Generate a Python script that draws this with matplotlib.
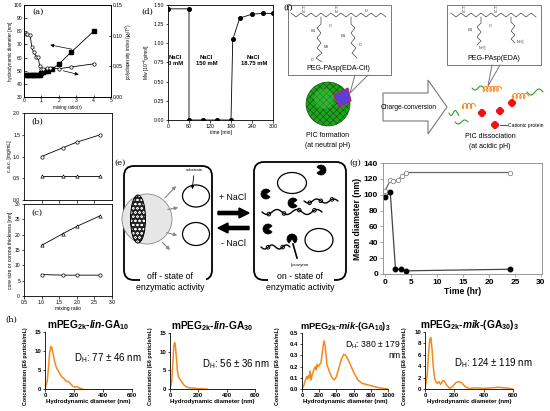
"""Multi-panel figure: PIC micelles, salt response and particle size distributions."""

import matplotlib

matplotlib.use("Agg")

import matplotlib.pyplot as plt
import numpy as np
from matplotlib.patches import Circle, Ellipse, FancyArrow, FancyBboxPatch, Polygon, Rectangle, Wedge

W, H = 550, 411

# (a) diameter / polydispersity vs mixing ratio
ratio_a_diam = [0.1, 0.2, 0.3, 0.4, 0.5, 0.6, 0.7, 0.8, 0.9, 1.0, 1.1, 1.25, 1.4, 1.6, 2.0, 2.7, 4.0]
diam_a = [47, 47, 47, 47, 47, 47, 47, 47, 47, 48, 49, 50, 50, 51, 55, 64, 80]
ratio_a_pdi = [0.1, 0.2, 0.35, 0.45, 0.55, 0.7, 0.8, 0.9, 1.0, 1.1, 1.3, 1.5, 2.0, 2.7, 4.0]
pdi_a = [0.103, 0.103, 0.101, 0.081, 0.073, 0.066, 0.066, 0.051, 0.045, 0.045, 0.047, 0.047, 0.046, 0.049, 0.054]

# (b), (c) vs mixing ratio
ratio_bc = [1.0, 1.6, 2.0, 2.67]
cac_circle = [1.0, 1.2, 1.33, 1.5]
cac_triangle = [0.55, 0.55, 0.55, 0.55]
core_triangle = [16.5, 20.3, 22.7, 26.2]
corona_circle = [7.0, 6.8, 6.8, 6.8]

# (d) Mw vs time under NaCl switching
time_d = [0, 60, 60, 100, 140, 180, 185, 205, 240, 270, 300]
mw_d = [1.45, 1.45, 0.0, 0.0, 0.0, 0.0, 1.05, 1.33, 1.38, 1.39, 1.39]
nacl_labels = ["NaCl\n0 mM", "NaCl\n150 mM", "NaCl\n18.75 mM"]
nacl_pos = [22, 110, 245]

# (g) mean diameter vs time
time_g_open = [0, 1, 1.5, 2.5, 3.3, 4, 24]
diam_g_open = [105, 118, 117, 119, 124, 128, 128]
time_g_filled = [0, 1, 2, 3, 4, 24]
diam_g_filled = [97, 103, 6, 6, 4, 6]

# (h) NTA size distributions
h1_d = [0, 15, 25, 32, 40, 48, 55, 65, 75, 85, 100, 115, 130, 145, 160, 175, 190, 205, 220, 240, 260]
h1_c = [0, 2, 6, 9.5, 11.2, 10.8, 9.5, 7.5, 6.0, 5.2, 4.2, 3.2, 2.8, 2.0, 2.0, 1.4, 0.8, 0.5, 0.6, 0.2, 0]
h2_d = [0, 12, 20, 27, 33, 38, 45, 52, 60, 70, 85, 100, 120, 140, 170, 200, 260]
h2_c = [0, 2, 7, 11.5, 12.4, 11.6, 8.5, 5.0, 3.2, 2.6, 1.8, 1.0, 0.5, 0.3, 0.2, 0.1, 0]
h3_d = [0, 20, 40, 55, 65, 75, 85, 95, 105, 115, 125, 140, 155, 165, 175, 190, 205, 220, 240, 255, 270,
        290, 320, 350, 375, 400, 430, 460, 485, 510, 550, 600, 650, 700, 800, 900, 1000]
h3_c = [0, 0.03, 0.08, 0.11, 0.09, 0.12, 0.1, 0.16, 0.08, 0.12, 0.14, 0.18, 0.2, 0.17, 0.22, 0.2, 0.22, 0.23, 0.35,
        0.43, 0.38, 0.22, 0.15, 0.1, 0.08, 0.11, 0.19, 0.27, 0.31, 0.3, 0.24, 0.15, 0.08, 0.05, 0.03, 0.01, 0]
h4_d = [0, 15, 25, 33, 40, 48, 56, 65, 75, 85, 95, 105, 115, 125, 135, 150, 170, 190, 210, 230, 250, 275,
        300, 350, 400, 450, 500, 550, 600]
h4_c = [0, 2.5, 6.5, 8.8, 9.0, 7.0, 4.0, 2.0, 1.2, 1.0, 1.3, 0.8, 1.2, 1.5, 1.3, 0.6, 0.1, 0.5, 1.1, 1.3, 1.1,
        0.4, 0.1, 0.2, 0.1, 0.2, 0.3, 0.2, 0]
h_titles = [
    r"mPEG$_{\mathbf{2k}}$-$\mathit{lin}$-GA$_{\mathbf{10}}$",
    r"mPEG$_{\mathbf{2k}}$-$\mathit{lin}$-GA$_{\mathbf{30}}$",
    r"mPEG$_{\mathbf{2k}}$-$\mathit{mik}$-(GA$_{\mathbf{10}}$)$_{\mathbf{3}}$",
    r"mPEG$_{\mathbf{2k}}$-$\mathit{mik}$-(GA$_{\mathbf{30}}$)$_{\mathbf{3}}$",
]
h_notes = [r"D$_\mathrm{H}$: 77 ± 46 nm", r"D$_\mathrm{H}$: 56 ± 36 nm",
           "D$_\\mathrm{H}$: 380 ± 179\nnm", r"D$_\mathrm{H}$: 124 ± 119 nm"]

ORANGE = "#f7861c"

plt.rcParams.update({
    "font.family": ["Liberation Sans", "DejaVu Sans"],
    "mathtext.fontset": "custom",
    "mathtext.rm": "Liberation Sans",
    "mathtext.it": "Liberation Sans:italic:bold",
    "mathtext.bf": "Liberation Sans:bold",
    "axes.linewidth": 0.6,
    "xtick.major.width": 0.5,
    "ytick.major.width": 0.5,
    "xtick.major.size": 2,
    "ytick.major.size": 2,
    "hatch.linewidth": 0.4,
})


def px_axes(fig, left, top, right, bottom):
    return fig.add_axes([left / W, 1 - bottom / H, (right - left) / W, (bottom - top) / H])


def small_ticks(ax, size=3.6, direction="in"):
    ax.tick_params(labelsize=size, direction=direction, pad=1, length=1.8)


fig = plt.figure(figsize=(W / 100, H / 100), dpi=100)

# ---- (a)
ax = px_axes(fig, 24, 5, 111, 97)
ax.plot(ratio_a_diam, diam_a, "-s", color="black", ms=2.2, lw=0.6)
ax.set_xlim(0, 5)
ax.set_ylim(30, 100)
ax.set_xticks(range(6))
ax.set_yticks(range(30, 101, 10))
small_ticks(ax)
ax.set_xlabel("mixing ratio(r)", fontsize=3.3, labelpad=1)
ax.set_ylabel("hydrodynamic diameter [nm]", fontsize=3.3, labelpad=1)
ax2 = ax.twinx()
ax2.plot(ratio_a_pdi, pdi_a, "-o", color="black", mfc="white", ms=2.4, lw=0.6, mew=0.5)
ax2.set_ylim(0, 0.15)
ax2.set_yticks([0, 0.05, 0.10, 0.15])
ax2.set_yticklabels(["0.00", "0.05", "0.10", "0.15"])
small_ticks(ax2)
ax2.set_ylabel(r"polydispersity index ($\mu_2/\Gamma^2$)", fontsize=3.3, labelpad=1)
ax.annotate("", xy=(1.35, 70), xytext=(2.9, 66),
            arrowprops=dict(arrowstyle="-|>", lw=0.5, color="black", mutation_scale=5))
ax.annotate("", xy=(3.3, 46.5), xytext=(2.1, 50.5),
            arrowprops=dict(arrowstyle="-|>", lw=0.5, color="black", mutation_scale=5))
ax.text(0.1, 0.9, "(a)", transform=ax.transAxes, fontsize=6, family="DejaVu Serif")

# ---- (b)
ax = px_axes(fig, 24, 113, 112, 200)
ax.plot(ratio_bc, cac_circle, "-o", color="black", mfc="white", ms=2.4, lw=0.6, mew=0.5)
ax.plot(ratio_bc, cac_triangle, "-^", color="black", mfc="white", ms=2.4, lw=0.6, mew=0.5)
ax.set_xlim(0.5, 3.0)
ax.set_ylim(0, 2.0)
ax.set_xticks([1.0, 1.5, 2.0, 2.5])
ax.set_xticklabels([])
ax.set_yticks([0, 0.5, 1.0, 1.5, 2.0])
small_ticks(ax, direction="out")
ax.set_ylabel("c.a.c. [mg/mL]", fontsize=3.6, labelpad=1)
ax.text(0.08, 0.88, "(b)", transform=ax.transAxes, fontsize=6, family="DejaVu Serif")

# ---- (c)
ax = px_axes(fig, 24, 204, 112, 296)
ax.plot(ratio_bc, core_triangle, "-^", color="black", mfc="white", ms=2.4, lw=0.6, mew=0.5)
ax.plot(ratio_bc, corona_circle, "-o", color="black", mfc="white", ms=2.4, lw=0.6, mew=0.5)
ax.set_xlim(0.5, 3.0)
ax.set_ylim(0, 30)
ax.set_xticks([0.5, 1.0, 1.5, 2.0, 2.5, 3.0])
ax.set_yticks(range(0, 31, 5))
small_ticks(ax, direction="out")
ax.set_xlabel("mixing ratio", fontsize=3.6, labelpad=1)
ax.set_ylabel("core size or corona thickness [nm]", fontsize=3.6, labelpad=1)
ax.text(0.08, 0.88, "(c)", transform=ax.transAxes, fontsize=6, family="DejaVu Serif")

# ---- (d)
ax = px_axes(fig, 168, 5, 273, 120)
ax.plot(time_d, mw_d, "-o", color="black", ms=2.6, lw=0.6)
ax.set_xlim(0, 300)
ax.set_ylim(0, 1.5)
ax.set_xticks(range(0, 301, 60))
ax.set_yticks([0, 0.25, 0.5, 0.75, 1.0, 1.25, 1.5])
ax.set_yticklabels(["0.00", "0.25", "0.50", "0.75", "1.00", "1.25", "1.50"])
small_ticks(ax, size=3.8, direction="out")
ax.set_xlabel("time [min]", fontsize=3.6, labelpad=1)
ax.set_ylabel(r"Mw [10$^{-6}$g/mol]", fontsize=3.6, labelpad=1)
for label, t in zip(nacl_labels, nacl_pos):
    ax.text(t, 0.78, label, ha="center", va="center", fontsize=4.2, fontweight="bold", linespacing=1.3)

# ---- (g)
ax = px_axes(fig, 383, 163, 542, 274)
ax.plot(time_g_open, diam_g_open, "-o", color="#666666", mfc="white", mec="#888888", ms=3.2, lw=0.9, mew=0.6)
ax.plot(time_g_filled, diam_g_filled, "-o", color="#444444", mfc="black", mec="black", ms=3.2, lw=0.9)
ax.set_xlim(-0.4, 30.2)
ax.set_ylim(0, 140)
ax.set_xticks(range(0, 31, 5))
ax.set_yticks(range(0, 141, 20))
ax.tick_params(labelsize=6, direction="out", pad=1.5, length=2, colors="#888888", labelcolor="black")
for lab in ax.get_xticklabels() + ax.get_yticklabels():
    lab.set_fontweight("bold")
for sp in ax.spines.values():
    sp.set_color("#888888")
ax.set_xlabel("Time (hr)", fontsize=6.2, fontweight="bold", labelpad=1)
ax.set_ylabel("Mean diameter (nm)", fontsize=6.2, fontweight="bold", labelpad=1)

# ---- (h)
h_boxes = [(45, 332, 132, 389), (170, 333, 255, 389), (302, 333, 388, 389), (425, 332, 513, 389)]
h_data = [(h1_d, h1_c), (h2_d, h2_c), (h3_d, h3_c), (h4_d, h4_c)]
h_xlim = [600, 600, 1000, 600]
h_xticks = [[0, 200, 400, 600], [0, 200, 400, 600], [0, 200, 400, 600, 800, 1000], [0, 200, 400, 600]]
h_ylim = [15, 15, 0.5, 10]
h_yticks = [[0, 5, 10, 15], [0, 5, 10, 15], [0.0, 0.1, 0.2, 0.3, 0.4, 0.5], [0, 2, 4, 6, 8, 10]]
h_note_xy = [(0.33, 0.55), (0.38, 0.45), (0.5, 0.7), (0.33, 0.45)]
h_note_size = [7, 7, 6.2, 7]
h_title_size = [7.3, 7.3, 6.7, 7.3]
h_ylabel_x = [-0.2, -0.2, -0.25, -0.2]
for i, box in enumerate(h_boxes):
    ax = px_axes(fig, *box)
    xs, ys = h_data[i]
    ax.plot(xs, ys, color=ORANGE, lw=1.1)
    ax.set_xlim(0, h_xlim[i])
    ax.set_ylim(0, h_ylim[i])
    ax.set_xticks(h_xticks[i])
    ax.set_yticks(h_yticks[i])
    if i == 2:
        ax.set_yticklabels(["0.0", "0.1", "0.2", "0.3", "0.4", "0.5"])
    ax.spines["top"].set_visible(False)
    ax.spines["right"].set_visible(False)
    ax.tick_params(labelsize=4.3, direction="out", pad=1, length=1.8)
    for lab in ax.get_xticklabels() + ax.get_yticklabels():
        lab.set_fontweight("bold")
    ax.set_xlabel("Hydrodynamic diameter (nm)", fontsize=4.4, fontweight="bold", labelpad=1)
    ax.set_ylabel("Concentration (E6 particle/mL)", fontsize=3.8, fontweight="bold")
    ax.yaxis.set_label_coords(h_ylabel_x[i], 0.4)
    ax.set_title(h_titles[i], fontsize=h_title_size[i], fontweight="bold", pad=3)
    ax.text(h_note_xy[i][0], h_note_xy[i][1], h_notes[i], transform=ax.transAxes, fontsize=h_note_size[i],
            ha="left", va="center", multialignment="right", linespacing=1.0)

# ---- schematic overlay (panels e and f, labels)
ov = fig.add_axes([0, 0, 1, 1], facecolor="none")
ov.set_xlim(0, W)
ov.set_ylim(H, 0)
ov.axis("off")


def label(x, y, s):
    ov.text(x, y, s, fontsize=6, family="DejaVu Serif", ha="left", va="center")


label(141, 12, "(d)")
label(114, 163, "(e)")
label(283, 8, "(f)")
label(349, 163, "(g)")
label(5, 320, "(h)")


def wavy(x0, x1, y0, amp, n, color="black", lw=1.0, beads=0):
    t = np.linspace(0, 1, 80)
    xs = x0 + (x1 - x0) * t
    ys = y0 + amp * np.sin(2 * np.pi * n * t)
    ov.plot(xs, ys, color=color, lw=lw, solid_capstyle="round")
    if beads:
        for k in range(beads):
            j = int((k + 0.5) / beads * 79)
            ov.add_patch(Circle((xs[j], ys[j]), 1.8, facecolor="white", edgecolor=color, lw=0.7))


def coil(x0, x1, y0, color, turns=5):
    t = np.linspace(0, 1, 120)
    xs = x0 + (x1 - x0) * t + 1.5 * np.cos(2 * np.pi * turns * t)
    ys = y0 + 2.5 * np.sin(2 * np.pi * turns * t)
    ov.plot(xs, ys, color=color, lw=0.7)


def pacman(x, y, r=5, rot=0):
    ov.add_patch(Wedge((x, y), r, rot + 35, rot + 325, facecolor="black", edgecolor="black", lw=0.5))


# (e) left box: off state
ov.add_patch(FancyBboxPatch((124, 166), 88, 114, boxstyle="round,pad=0,rounding_size=10",
                            facecolor="white", edgecolor="black", lw=1.3))
ov.add_patch(Circle((147, 219), 25, facecolor="#e6e6e6", edgecolor="#888888", lw=0.6))
ov.add_patch(Ellipse((138, 219), 15, 48, facecolor="#222222", edgecolor="white", hatch="oooo", lw=0))
ov.add_patch(Ellipse((138, 219), 15, 48, facecolor="none", edgecolor="black", lw=0.7))
ov.add_patch(Ellipse((196, 196), 27, 22, facecolor="white", edgecolor="black", lw=0.9))
ov.add_patch(Ellipse((196, 234), 27, 23, facecolor="white", edgecolor="black", lw=0.9))
for (xa, ya, xb, yb) in [(163, 200, 178, 184), (165, 210, 181, 207), (164, 232, 180, 236), (160, 240, 172, 252)]:
    ov.annotate("", xy=(xb, yb), xytext=(xa, ya),
                arrowprops=dict(arrowstyle="-|>", lw=0.8, color="#888888", mutation_scale=5))
ov.text(194, 170, "substrate", fontsize=3, ha="center", va="center")
ov.annotate("", xy=(192, 192), xytext=(194, 173),
            arrowprops=dict(arrowstyle="-|>", lw=0.6, color="black", mutation_scale=4))
ov.add_patch(Rectangle((140, 270), 66, 20, facecolor="white", edgecolor="none"))
ov.text(170, 276, "off - state of", fontsize=6.3, ha="center", va="center")
ov.text(170, 287, "enzymatic activity", fontsize=6.3, ha="center", va="center")

# (e) arrows between states
ov.text(233, 197, "+ NaCl", fontsize=6.3, ha="center", va="center")
ov.add_patch(FancyArrow(218, 213, 31, 0, width=3.2, head_width=10, head_length=10,
                        length_includes_head=True, color="black"))
ov.add_patch(FancyArrow(249, 228, -31, 0, width=3.2, head_width=10, head_length=10,
                        length_includes_head=True, color="black"))
ov.text(233, 243, "- NaCl", fontsize=6.3, ha="center", va="center")

# (e) right box: on state
ov.add_patch(FancyBboxPatch((254, 162), 92, 118, boxstyle="round,pad=0,rounding_size=10",
                            facecolor="white", edgecolor="black", lw=1.3))
ov.add_patch(Ellipse((292, 183), 29, 21, facecolor="white", edgecolor="black", lw=0.9))
ov.add_patch(Ellipse((319, 240), 28, 23, facecolor="white", edgecolor="black", lw=0.9))
pacman(321, 170, 5, 180)
pacman(266, 194, 5, 0)
pacman(293, 203, 5, 0)
pacman(268, 229, 5, 0)
pacman(292, 239, 5, 90)
wavy(262, 322, 212, 2.5, 3, beads=4)
wavy(304, 338, 201, 2.0, 2, beads=3)
wavy(261, 290, 247, 2.0, 2, beads=2)
ov.plot([293, 297], [244, 258], color="black", lw=1.2)
ov.text(300, 265, "lysozyme", fontsize=3.2, ha="center", va="center")
ov.add_patch(Rectangle((268, 270), 66, 20, facecolor="white", edgecolor="none"))
ov.text(300, 276, "on - state of", fontsize=6.3, ha="center", va="center")
ov.text(300, 287, "enzymatic activity", fontsize=6.3, ha="center", va="center")

# (f) callout boxes with chemical sketches
STRUCT = "#333333"
ov.add_patch(Rectangle((288, 5), 103, 70, facecolor="white", edgecolor="#777777", lw=0.7))
ov.plot([355, 350, 368], [75, 93, 75], color="#777777", lw=0.7)
ov.add_patch(Rectangle((447, 5), 94, 60, facecolor="white", edgecolor="#777777", lw=0.7))
ov.plot([492, 488, 500], [65, 86, 65], color="#777777", lw=0.7)
for x0, x1 in [(291, 388), (451, 538)]:
    xs = np.arange(x0, x1, 5)
    ys = np.where(np.arange(len(xs)) % 2 == 0, 13, 17)
    ov.plot(xs, ys, color=STRUCT, lw=0.45)
for xs, ys in [
    ([321, 321, 317, 321, 317, 321, 317, 322, 316, 322], [17, 24, 28, 33, 38, 43, 48, 53, 58, 62]),
    ([351, 351, 355, 351, 355, 351, 356, 352, 357], [17, 24, 28, 33, 38, 43, 48, 53, 58]),
    ([481, 481, 477, 481, 477, 481, 477], [17, 23, 27, 32, 37, 41, 45]),
    ([511, 511, 515, 511, 515, 511, 515], [17, 22, 26, 31, 35, 39, 43]),
]:
    ov.plot(xs, ys, color=STRUCT, lw=0.45)
for x, y, s in [(303, 10, "H\nN"), (336, 10, "H\nN"), (366, 11, "O"), (313, 31, "HN"), (330, 26, "O"),
                (343, 36, "HN"), (326, 47, "NH"), (360, 45, "O"), (312, 60, "O"), (463, 10, "H\nN"),
                (495, 10, "H\nN"), (470, 30, "HN"), (490, 26, "O"), (483, 49, "NH$_3^+$"), (521, 43, "NH$_3^+$")]:
    ov.text(x, y, s, fontsize=2.6, ha="center", va="center", color=STRUCT, linespacing=0.8)
ov.text(338, 69, "PEG-PAsp(EDA-Cit)", fontsize=5, ha="center", va="center")
ov.text(494, 59, "PEG-PAsp(EDA)", fontsize=5, ha="center", va="center")

# (f) micelle
ov.add_patch(Circle((328, 104), 22, facecolor="#1fa31f", edgecolor="#0b4f0b", hatch="xxxxx", lw=0.4))
ov.add_patch(Circle((324, 99), 10, facecolor="#55d655", edgecolor="none", alpha=0.35))
ov.add_patch(Polygon([(334, 95), (348, 88), (351, 101), (339, 107)], facecolor="#5b3fd8",
                     edgecolor="#c02060", lw=0.8))
ov.text(328, 135, "PIC formation", fontsize=5, ha="center", va="center")
ov.text(328, 145, "(at neutral pH)", fontsize=5, ha="center", va="center")

# (f) charge-conversion arrow
ov.add_patch(Polygon([(383, 93), (428, 93), (428, 80), (447, 107), (428, 134), (428, 121), (383, 121)],
                     facecolor="white", edgecolor="#777777", lw=0.8))
ov.text(409, 107, "Charge-conversion", fontsize=4.8, ha="center", va="center")

# (f) dissociated state
GREEN = "#2aa02a"
wavy(449, 459, 113, 2.5, 1.2, color=GREEN, lw=0.8)
wavy(472, 484, 88, 2.0, 1.0, color=GREEN, lw=0.8)
wavy(527, 543, 92, 3.0, 1.0, color=GREEN, lw=0.8)
wavy(455, 468, 122, 2.0, 1.0, color=GREEN, lw=0.8)
coil(483, 500, 89, ORANGE)
coil(512, 527, 96, ORANGE, turns=4)
coil(462, 474, 106, ORANGE, turns=3)
for cx, cy in [(482, 113), (500, 111), (495, 125), (512, 103)]:
    for dx, dy in [(-1.5, 0), (1.5, 0), (0, -1.5), (0, 1.5)]:
        ov.add_patch(Circle((cx + dx, cy + dy), 2.6, facecolor="#ee1111", edgecolor="none"))
ov.plot([500, 507], [125, 125], color="black", lw=0.5)
ov.text(508, 125, "Cationic protein", fontsize=3.6, ha="left", va="center")
ov.text(490, 136, "PIC dissociation", fontsize=5, ha="center", va="center")
ov.text(490, 146, "(at acidic pH)", fontsize=5, ha="center", va="center")

fig.savefig("out.png", dpi=100)
